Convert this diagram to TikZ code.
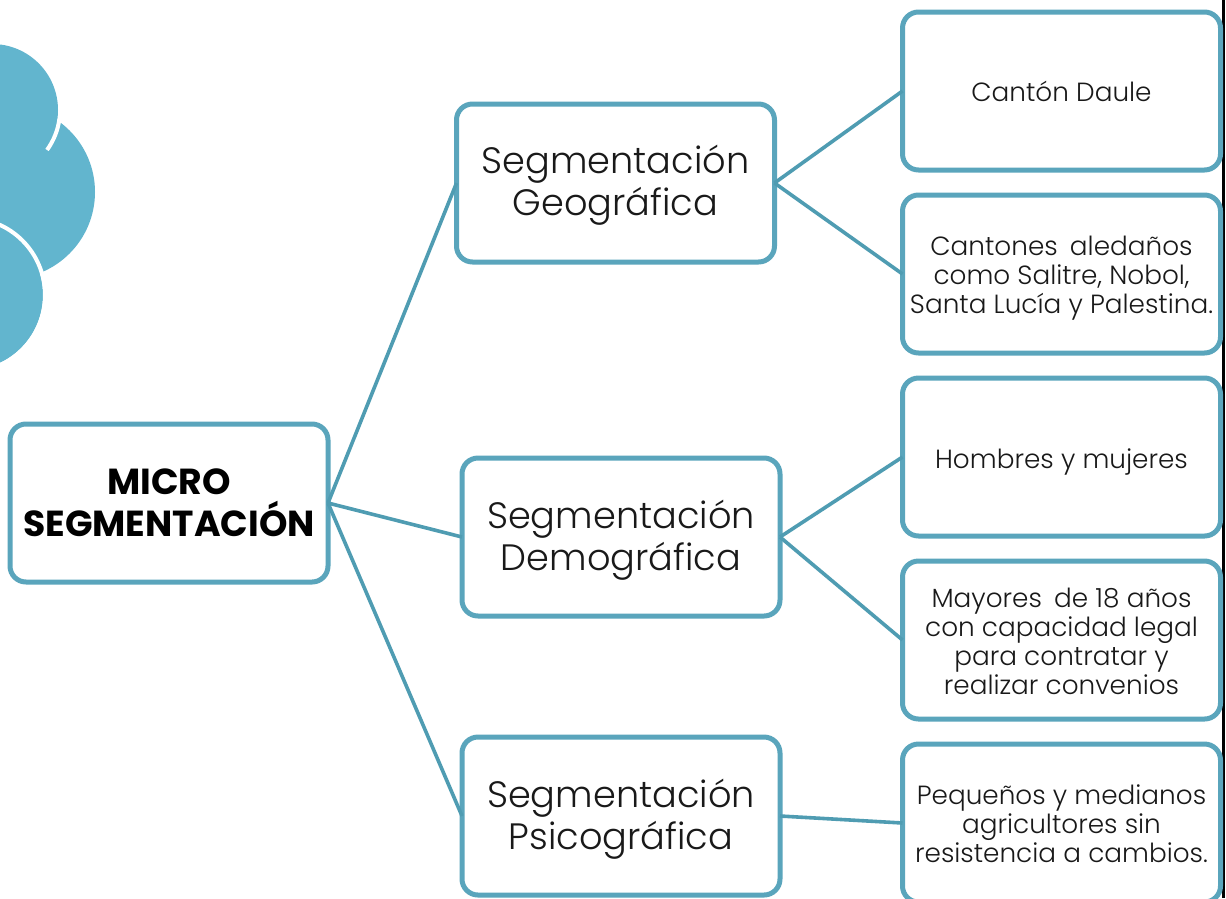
\documentclass[tikz,border=0pt]{standalone}
\usepackage{fontspec}
\setmainfont{Poppins Light}[BoldFont={Poppins Bold}]
\definecolor{edge}{HTML}{5AA5BC}
\definecolor{linkc}{HTML}{4F9CB2}
\definecolor{cloud}{HTML}{62B5CE}
\newcommand{\dnby}[2]{\raisebox{-#1}[\height][\depth]{#2}}
\tikzset{
  box/.style={draw=edge,line width=5pt,rounded corners=16pt,fill=white,minimum width=318pt,minimum height=158pt,outer sep=0pt,inner sep=0pt,align=center,text=black!90},
  head/.style={box,font=\fontsize{36.7}{42}\selectfont},
  leaf/.style={box,font=\fontsize{26.3}{29}\selectfont},
  rootbox/.style={box,text=black,font=\fontsize{36.2}{42}\selectfont\bfseries},
  link/.style={draw=linkc,line width=3.6pt}
}
\begin{document}
\begin{tikzpicture}[x=1pt,y=-1pt]
\useasboundingbox (0,0) rectangle (1226,898);
\clip (0,0) rectangle (1226,898);
\fill[white] (0,0) rectangle (1226,898);
\fill[cloud] (8,192) circle (87);
\fill[cloud] (-8,110) circle (66);
\draw[white,line width=4pt] (-8,110) ++(8:68) arc (8:36:68);
\fill[cloud] (-32,295) circle (75);
\draw[white,line width=4pt] (-32,295) circle (77);
\draw[black,line width=2.5pt] (1223.5,0) -- (1223.5,898);
\node[rootbox] (root) at (169,503) {MICRO\\SEGMENTACIÓN};
\node[head] (geo) at (615.5,183) {\dnby{2pt}{Segmentación}\\\dnby{2pt}{Geográfica}};
\node[head] (dem) at (621,537) {\dnby{3pt}{Segmentación}\\\dnby{3pt}{Demográfica}};
\node[head] (psi) at (621,816) {\dnby{3pt}{Segmentación}\\\dnby{3pt}{Psicográfica}};
\node[leaf] (a) at (1061.5,91) {Cantón Daule};
\node[leaf] (b) at (1061.5,274) {\dnby{4pt}{Cantones\hspace{5pt} aledaños}\\\dnby{4pt}{como Salitre, Nobol,}\\\dnby{4pt}{Santa Lucía y Palestina.}};
\node[leaf] (c) at (1061.5,457) {\dnby{5pt}{Hombres y mujeres}};
\node[leaf] (d) at (1061.5,640) {\dnby{1.5pt}{Mayores\hspace{5pt} de 18 años}\\\dnby{1.5pt}{con capacidad legal}\\\dnby{1.5pt}{para contratar y}\\\dnby{1.5pt}{realizar convenios}};
\node[leaf] (e) at (1061.5,823) {\dnby{1pt}{Pequeños y medianos}\\\dnby{1pt}{agricultores sin}\\\dnby{1pt}{resistencia a cambios.}};
\draw[link] (root.east) -- (geo.west);
\draw[link] (root.east) -- (dem.west);
\draw[link] (root.east) -- (psi.west);
\draw[link] (geo.east) -- (a.west);
\draw[link] (geo.east) -- (b.west);
\draw[link] (dem.east) -- (c.west);
\draw[link] (dem.east) -- (d.west);
\draw[link] (psi.east) -- (e.west);
\end{tikzpicture}
\end{document}
